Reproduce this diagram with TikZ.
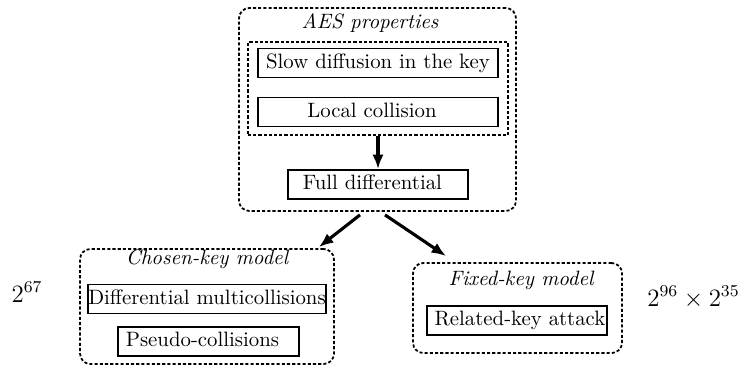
\documentclass[tikz,border=0pt]{standalone}
\usetikzlibrary{arrows.meta,calc}
\begin{document}
\begin{tikzpicture}[x=0.4808pt,y=-0.4808pt,
  dbox/.style={draw, line width=0.85pt, dash pattern=on 1.5pt off 1pt, rounded corners=5pt, inner sep=0pt},
  ibox/.style={draw, line width=0.85pt, dash pattern=on 1.5pt off 1pt, inner sep=0pt},
  sbox/.style={draw, line width=0.85pt, inner xsep=0pt, inner ysep=0pt, minimum height=14pt, text height=7pt, text depth=2pt},
  ttl/.style={font=\itshape, inner sep=0pt, text height=6.94pt, text depth=1.94pt},
  arr/.style={line width=1.5pt, -{Latex[length=7pt,width=5.5pt]}},
  num/.style={font=\large, anchor=base, inner sep=0pt}]
\useasboundingbox (0,0) rectangle (756,366);
\node[dbox, minimum width=133.2pt, minimum height=97.6pt] (aes) at (377.5,109.5) {};
\node[ttl] (aestitle) at (370,23) {AES properties};
\node[ibox, minimum width=125pt, minimum height=44.7pt] (inner) at (378,88.5) {};
\node[sbox, minimum width=115.4pt] (slow) at (378,63) {Slow diffusion in the key};
\node[sbox, minimum width=115.4pt] (local) at (378,112) {\kern-5.8pt Local collision};
\node[sbox, minimum width=86.5pt] (full) at (378,184.5) {\kern-5.3pt Full differential};
\node[dbox, minimum width=122.1pt, minimum height=55.3pt] (chosen) at (207,306.5) {};
\node[ttl] (ctitle) at (207,259) {Chosen-key model};
\node[sbox, minimum width=113.5pt] (diff) at (207,299) {Differential multicollisions};
\node[sbox, minimum width=87pt] (pseudo) at (208.5,341.5) {\kern-5.8pt Pseudo-collisions};
\node[dbox, minimum width=100.5pt, minimum height=43.3pt] (fixed) at (517.5,308) {};
\node[ttl] (ftitle) at (521,280) {Fixed-key model};
\node[sbox, minimum width=86.5pt] (related) at (517,320.5) {\kern2.9pt Related-key attack};
\node[num] (n1) at (27,302) {$2^{67}$};
\node[num] (n2) at (693.5,306) {$2^{96}\times 2^{35}$};
\draw[arr] (inner.south) -- (full.north);
\draw[arr] ($(aes.south)+(-17.5,3)$) -- ($(chosen.north east)+(-16,-1)$);
\draw[arr] ($(aes.south)+(7.5,3)$) -- ($(fixed.north west)+(34,-6)$);
\end{tikzpicture}
\end{document}
